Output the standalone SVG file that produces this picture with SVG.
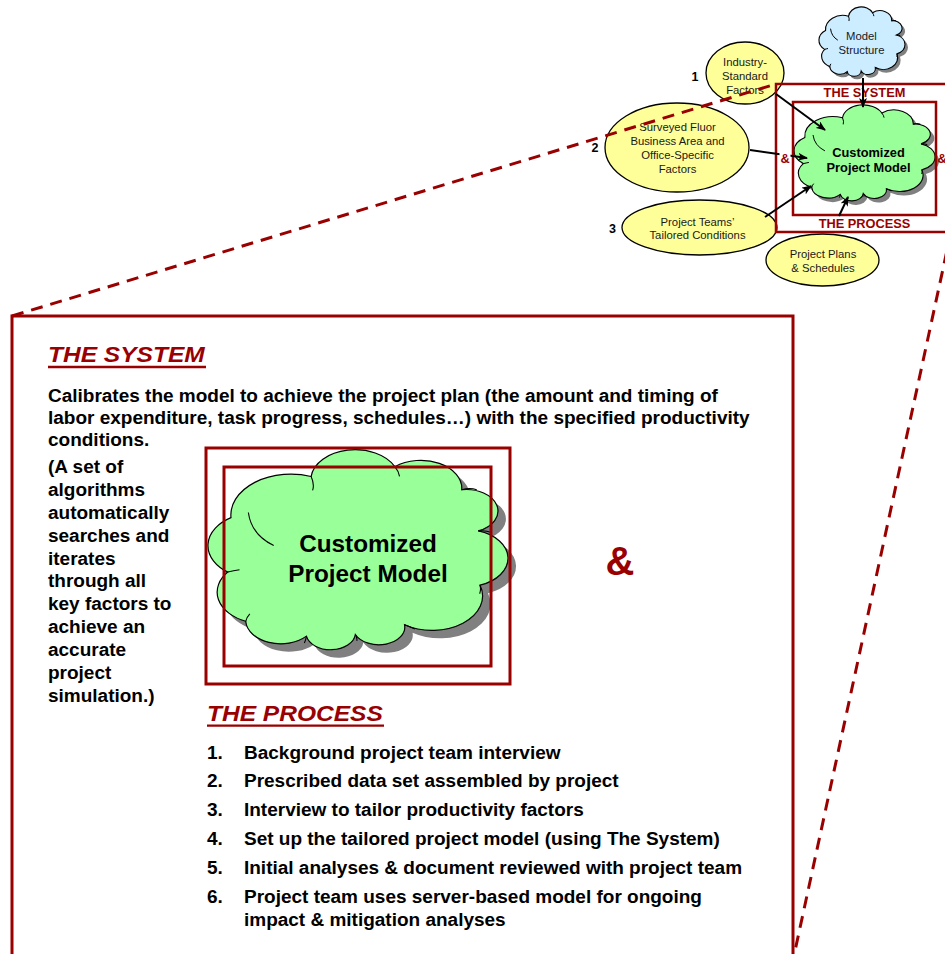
<svg xmlns="http://www.w3.org/2000/svg" xmlns:xlink="http://www.w3.org/1999/xlink" width="945" height="954" viewBox="0 0 945 954">
<style>
.ell{fill:#FFFF99;stroke:#000;stroke-width:1.3}
.et{font-family:"Liberation Sans",Arial,sans-serif;font-size:11.3px;fill:#1a1a1a;text-anchor:middle}
.num{font-family:"Liberation Sans",Arial,sans-serif;font-size:12.5px;font-weight:bold;fill:#000;text-anchor:middle}
.lab{font-family:"Liberation Sans",Arial,sans-serif;font-size:12.8px;font-weight:bold;fill:#990000;text-anchor:middle}
.ct{font-family:"Liberation Sans",Arial,sans-serif;font-size:12.8px;font-weight:bold;fill:#000;text-anchor:middle}
.big{font-family:"Liberation Sans",Arial,sans-serif;font-size:24.3px;font-weight:bold;fill:#000;text-anchor:middle}
.amp{font-family:"Liberation Sans",Arial,sans-serif;font-size:40px;font-weight:bold;fill:#990000;text-anchor:middle}
.body{font-family:"Liberation Sans",Arial,sans-serif;font-size:17.6px;font-weight:bold;fill:#000}
.head{font-family:"Liberation Sans",Arial,sans-serif;font-size:22.3px;font-weight:bold;font-style:italic;fill:#990000}
.box{fill:none;stroke:#990000}
.conn{stroke:#000;stroke-width:2;fill:none;marker-end:url(#arr)}
.dash{stroke:#990000;stroke-width:3;stroke-dasharray:12 8;fill:none}
.shadow{fill:#808080;stroke:none}
</style>
<defs>
<path id="cloud" vector-effect="non-scaling-stroke" d="M 5 60.7 A 16.3 16.3 0 0 1 6.1 33.6 A 20.4 20.4 0 0 1 33.3 13.1 A 15 15 0 0 1 61.7 8.2 A 13.9 13.9 0 0 1 84.4 19.7 A 10.7 10.7 0 0 1 90 40.2 A 14.2 14.2 0 0 1 90.6 67.2 A 17.1 17.1 0 0 1 65 86.9 A 8.8 8.8 0 0 1 48.3 91.8 A 8.4 8.4 0 0 1 31.7 92.6 A 11.9 11.9 0 0 1 11.1 85.2 A 15.7 15.7 0 0 1 5 60.7 Z"/>
<path id="cloudIn" vector-effect="non-scaling-stroke" fill="none" d="M 12 31 Q 13 42 20.6 47.5 M 33.3 13.1 Q 34.5 17 33.8 20 M 61.7 8.2 Q 63 10.5 63.3 13 M 84.4 19.7 Q 87 18.5 89.5 19.7 M 90 40.2 Q 92.5 39.8 94.5 41 M 90.6 67.2 Q 91 69.5 90.5 71.5 M 65 86.9 Q 67 88 68.5 89 M 48.3 91.8 Q 49 93.5 48.8 95 M 31.7 92.6 Q 31.5 94.5 31 96 M 11.1 85.2 Q 11.5 83 12.5 81.5 M 5 60.7 Q 7 60 9 59.5"/>
<marker id="arr" markerUnits="userSpaceOnUse" markerWidth="10" markerHeight="8" refX="9" refY="4" orient="auto">
<path d="M0,0 L10,4 L0,8 L2.5,4 z" fill="#000"/>
</marker>
</defs>

<!-- big box -->
<g id="bigBox">
<rect class="box" x="12" y="316" width="781" height="700" stroke-width="3"/>
</g>

<!-- ellipses -->
<g id="industry">
<ellipse class="ell" cx="745" cy="73" rx="39" ry="31"/>
<text class="et" x="745" y="66">Industry-</text>
<text class="et" x="745" y="80">Standard</text>
<text class="et" x="745" y="93.5">Factors</text>
<text class="num" x="695" y="80.5">1</text>
</g>
<g id="surveyed">
<ellipse class="ell" cx="677" cy="147.5" rx="72" ry="44.5"/>
<text class="et" x="677.5" y="131">Surveyed Fluor</text>
<text class="et" x="677.5" y="145">Business Area and</text>
<text class="et" x="677.5" y="158.5">Office-Specific</text>
<text class="et" x="677.5" y="172.5">Factors</text>
<text class="num" x="595" y="152">2</text>
</g>
<g id="teams">
<ellipse class="ell" cx="699.5" cy="227.5" rx="77.5" ry="27.5"/>
<text class="et" x="697.5" y="225.5">Project Teams’</text>
<text class="et" x="697.5" y="239">Tailored Conditions</text>
<text class="num" x="612.5" y="233">3</text>
</g>
<g id="plans">
<ellipse class="ell" cx="822.5" cy="260" rx="56.5" ry="26"/>
<text class="et" x="823" y="258.3">Project Plans</text>
<text class="et" x="823" y="271.7">&amp; Schedules</text>
</g>

<!-- model structure cloud -->
<g id="modelStructure">
<g transform="translate(3,3)"><use xlink:href="#cloud" href="#cloud" class="shadow" transform="translate(820.4,7.1) scale(0.845,0.696)"/></g>
<use xlink:href="#cloud" href="#cloud" fill="#CCECFF" stroke="#000" stroke-width="1.1" transform="translate(820.4,7.1) scale(0.845,0.696)"/>
<use xlink:href="#cloudIn" href="#cloudIn" stroke="#000" stroke-width="1" transform="translate(820.4,7.1) scale(0.845,0.696)"/>
<text class="et" x="861.5" y="40">Model</text>
<text class="et" x="861.5" y="54">Structure</text>
</g>

<!-- small system box -->
<g id="smallModel">
<g transform="translate(4,4)"><use xlink:href="#cloud" href="#cloud" class="shadow" transform="translate(796.4,105.1) scale(1.385,0.964)"/></g>
<use xlink:href="#cloud" href="#cloud" fill="#99FF99" stroke="#000" stroke-width="1.1" transform="translate(796.4,105.1) scale(1.385,0.964)"/>
<use xlink:href="#cloudIn" href="#cloudIn" stroke="#000" stroke-width="1" transform="translate(796.4,105.1) scale(1.385,0.964)"/>
<rect class="box" x="776" y="84" width="200" height="148" stroke-width="2.5"/>
<rect class="box" x="793" y="102" width="143" height="113" stroke-width="2.5"/>
<text class="ct" x="868.5" y="157">Customized</text>
<text class="ct" x="868.5" y="172">Project Model</text>
<text class="lab" x="864.5" y="97">THE SYSTEM</text>
<text class="lab" x="864.5" y="228">THE PROCESS</text>
<text class="lab" x="942" y="163">&amp;</text>
</g>

<!-- big model -->
<g id="bigModel">
<g transform="translate(8,8)"><use xlink:href="#cloud" href="#cloud" class="shadow" transform="translate(213,450.2) scale(2.947,2.008)"/></g>
<use xlink:href="#cloud" href="#cloud" fill="#99FF99" stroke="#000" stroke-width="1.2" transform="translate(213,450.2) scale(2.947,2.008)"/>
<use xlink:href="#cloudIn" href="#cloudIn" stroke="#000" stroke-width="1.1" transform="translate(213,450.2) scale(2.947,2.008)"/>
<rect class="box" x="206" y="448" width="304" height="236" stroke-width="3"/>
<rect class="box" x="224" y="467" width="267" height="199" stroke-width="3"/>
<text class="big" x="368" y="552">Customized</text>
<text class="big" x="368" y="582">Project Model</text>
</g>
<text class="amp" x="620" y="575">&amp;</text>

<!-- connectors -->
<g id="connectors">
<line class="conn" x1="863" y1="78" x2="863" y2="107"/>
<line class="conn" x1="776" y1="94" x2="825" y2="130"/>
<line class="conn" x1="750" y1="150" x2="807" y2="158"/>
<line class="conn" x1="765" y1="217" x2="811" y2="186"/>
<line class="conn" x1="839" y1="216" x2="848" y2="197"/>
</g>
<rect x="779.5" y="151" width="11" height="14" fill="#fff"/>
<text class="lab" x="785" y="163">&amp;</text>

<!-- texts in big box -->
<g transform="translate(48,0) scale(1.1,1)">
<text class="head" x="0" y="362">THE SYSTEM</text>
</g>
<line x1="48" y1="367" x2="206" y2="367" stroke="#990000" stroke-width="2.4"/>
<g transform="translate(48,0) scale(1.08,1)">
<text class="body" x="0" y="402">Calibrates the model to achieve the project plan (the amount and timing of</text>
<text class="body" x="0" y="424">labor expenditure, task progress, schedules…) with the specified productivity</text>
<text class="body" x="0" y="446">conditions.</text>
<text class="body" x="0" y="473">(A set of</text>
<text class="body" x="0" y="495.9">algorithms</text>
<text class="body" x="0" y="518.8">automatically</text>
<text class="body" x="0" y="541.7">searches and</text>
<text class="body" x="0" y="564.6">iterates</text>
<text class="body" x="0" y="587.5">through all</text>
<text class="body" x="0" y="610.4">key factors to</text>
<text class="body" x="0" y="633.3">achieve an</text>
<text class="body" x="0" y="656.2">accurate</text>
<text class="body" x="0" y="679.1">project</text>
<text class="body" x="0" y="702">simulation.)</text>
</g>
<g transform="translate(207,0) scale(1.1,1)">
<text class="head" x="0" y="721">THE PROCESS</text>
</g>
<line x1="207" y1="725.6" x2="384" y2="725.6" stroke="#990000" stroke-width="2.4"/>
<g transform="translate(207,0) scale(1.08,1)">
<text class="body" x="0" y="759.3">1.</text>
<text class="body" x="0" y="787">2.</text>
<text class="body" x="0" y="816">3.</text>
<text class="body" x="0" y="845">4.</text>
<text class="body" x="0" y="874">5.</text>
<text class="body" x="0" y="903">6.</text>
</g>
<g transform="translate(244,0) scale(1.08,1)">
<text class="body" x="0" y="759.3">Background project team interview</text>
<text class="body" x="0" y="787">Prescribed data set assembled by project</text>
<text class="body" x="0" y="816">Interview to tailor productivity factors</text>
<text class="body" x="0" y="845">Set up the tailored project model (using The System)</text>
<text class="body" x="0" y="874">Initial analyses &amp; document reviewed with project team</text>
<text class="body" x="0" y="903">Project team uses server-based model for ongoing</text>
<text class="body" x="0" y="926">impact &amp; mitigation analyses</text>
</g>

<!-- dashed zoom lines -->
<g id="zoomLines">
<line class="dash" x1="12" y1="316" x2="776" y2="84"/>
<line class="dash" x1="951" y1="232" x2="793" y2="960"/>
</g>
</svg>
